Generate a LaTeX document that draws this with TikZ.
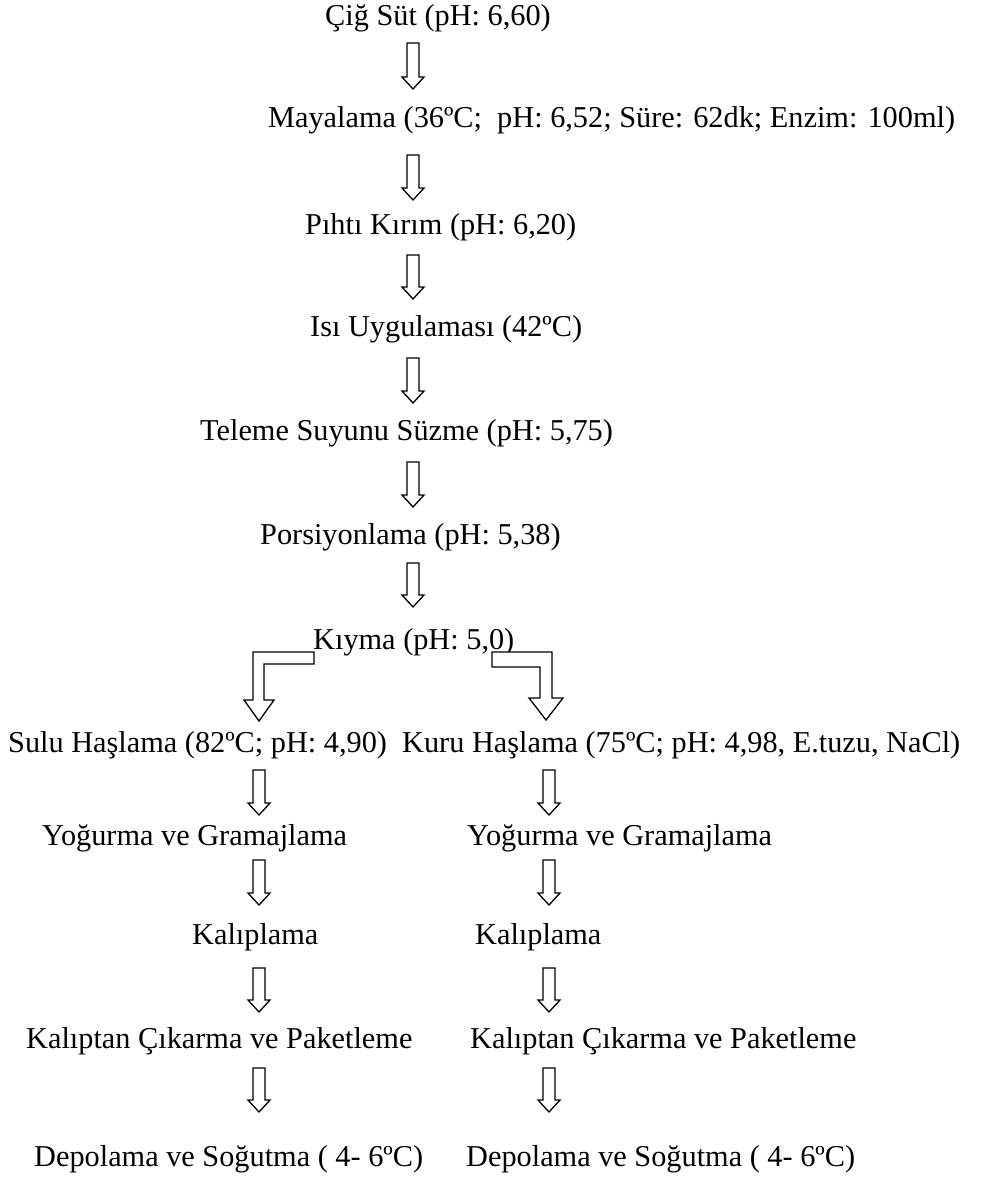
\documentclass[tikz,border=0pt]{standalone}
\usepackage{fontspec}
\setmainfont{Liberation Serif}
\usetikzlibrary{calc}
\newcommand{\hollowdown}[2]{%
  \draw[blk] let \p1=(#1), \p2=(#2) in
    ({\x1-6pt},\y1) -- ({\x1+6pt},\y1) -- ({\x1+6pt},{\y2+12pt}) -- ({\x1+11pt},{\y2+12pt})
    -- (\x1,\y2) -- ({\x1-11pt},{\y2+12pt}) -- ({\x1-6pt},{\y2+12pt}) -- cycle;}
\begin{document}
\begin{tikzpicture}[x=1pt,y=-1pt,
  lbl/.style={anchor=base west, inner sep=0pt, font=\fontsize{30.3}{36}\selectfont},
  blk/.style={draw=black, line width=1.3pt, fill=white, line join=miter}]
\useasboundingbox (0,0) rectangle (983,1179);
% main column
\node[lbl] (t1) at (325,25) {Çiğ Süt (pH: 6,60)};
\node[lbl] (t2) at (268,127) {Mayalama (36ºC;\ \ pH: 6,52; Süre: 62dk; Enzim: 100ml)};
\node[lbl] (t3) at (305,234) {Pıhtı Kırım (pH: 6,20)};
\node[lbl] (t4) at (310,336) {Isı Uygulaması (42ºC)};
\node[lbl] (t5) at (200,440) {Teleme Suyunu Süzme (pH: 5,75)};
\node[lbl] (t6) at (260,544) {Porsiyonlama (pH: 5,38)};
\node[lbl] (t7) at (313,649) {Kıyma (pH: 5,0)};
% left column
\node[lbl] (l1) at (8,752) {Sulu Haşlama (82ºC; pH: 4,90)};
\node[lbl] (l2) at (42,845) {Yoğurma ve Gramajlama};
\node[lbl] (l3) at (192,944) {Kalıplama};
\node[lbl] (l4) at (26,1048) {Kalıptan Çıkarma ve Paketleme};
\node[lbl] (l5) at (34,1166) {Depolama ve Soğutma ( 4- 6ºC)};
% right column
\node[lbl] (r1) at (402,752) {Kuru Haşlama (75ºC; pH: 4,98, E.tuzu, NaCl)};
\node[lbl] (r2) at (467,845) {Yoğurma ve Gramajlama};
\node[lbl] (r3) at (475,944) {Kalıplama};
\node[lbl] (r4) at (470,1048) {Kalıptan Çıkarma ve Paketleme};
\node[lbl] (r5) at (466,1166) {Depolama ve Soğutma ( 4- 6ºC)};
% arrow end points
\coordinate (a1t) at (413,43);  \coordinate (a1b) at (413,89);
\coordinate (a2t) at (413,155); \coordinate (a2b) at (413,200);
\coordinate (a3t) at (413,255); \coordinate (a3b) at (413,299);
\coordinate (a4t) at (413,358); \coordinate (a4b) at (413,403);
\coordinate (a5t) at (413,462); \coordinate (a5b) at (413,507);
\coordinate (a6t) at (413,563); \coordinate (a6b) at (413,607);
\hollowdown{a1t}{a1b}
\hollowdown{a2t}{a2b}
\hollowdown{a3t}{a3b}
\hollowdown{a4t}{a4b}
\hollowdown{a5t}{a5b}
\hollowdown{a6t}{a6b}
% bent arrows from Kıyma
\draw[blk] (314,652) -- (253,652) -- (253,700) -- (244,700) -- (259,721) -- (274,700) -- (264,700) -- (264,664) -- (314,664) -- cycle;
\draw[blk] (492,652) -- (552,652) -- (552,698) -- (563,698) -- (546,720) -- (529,698) -- (540,698) -- (540,667) -- (492,667) -- cycle;
% left column arrows
\coordinate (b1t) at (259,770);  \coordinate (b1b) at (259,815);
\coordinate (b2t) at (259,860);  \coordinate (b2b) at (259,905);
\coordinate (b3t) at (259,968);  \coordinate (b3b) at (259,1012);
\coordinate (b4t) at (259,1068); \coordinate (b4b) at (259,1112);
\hollowdown{b1t}{b1b}
\hollowdown{b2t}{b2b}
\hollowdown{b3t}{b3b}
\hollowdown{b4t}{b4b}
% right column arrows
\coordinate (c1t) at (549,770);  \coordinate (c1b) at (549,815);
\coordinate (c2t) at (549,860);  \coordinate (c2b) at (549,905);
\coordinate (c3t) at (549,968);  \coordinate (c3b) at (549,1012);
\coordinate (c4t) at (549,1068); \coordinate (c4b) at (549,1112);
\hollowdown{c1t}{c1b}
\hollowdown{c2t}{c2b}
\hollowdown{c3t}{c3b}
\hollowdown{c4t}{c4b}
\end{tikzpicture}
\end{document}
